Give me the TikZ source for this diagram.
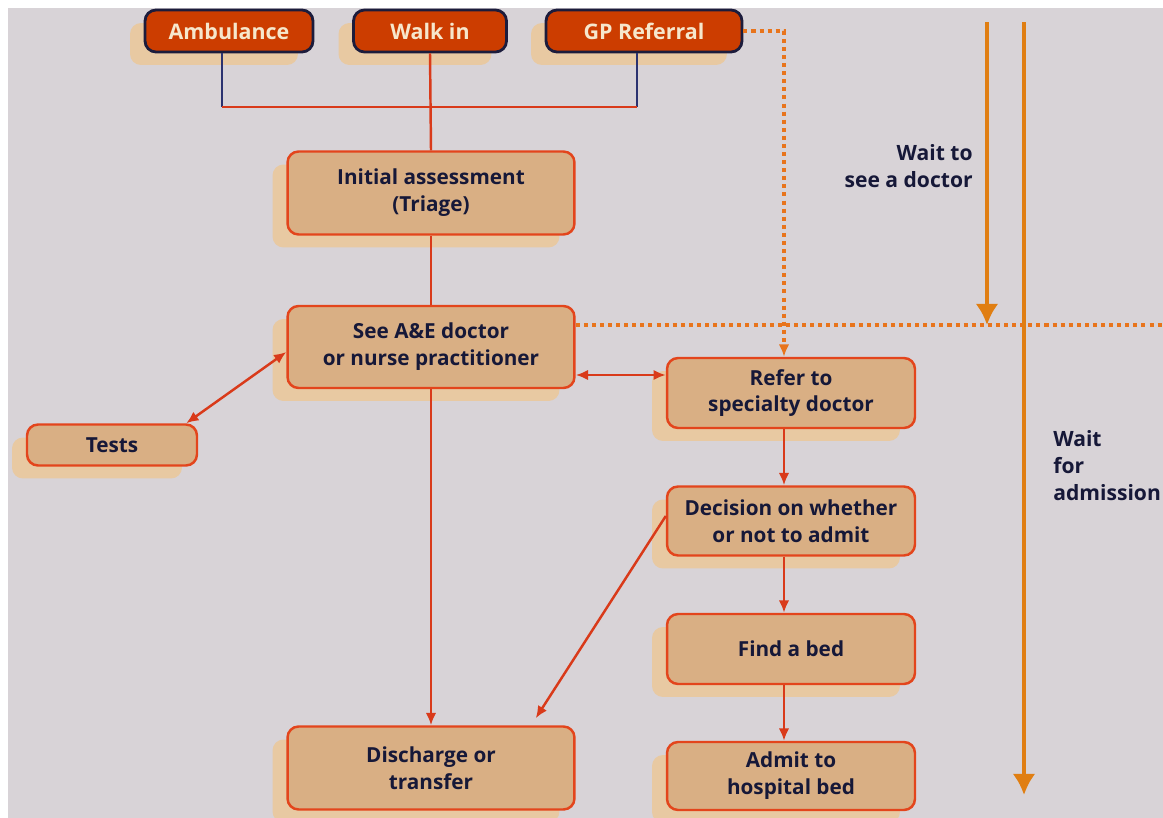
\documentclass[tikz,border=0pt]{standalone}
\usepackage{fontspec}
\setmainfont{Open Sans}
\usetikzlibrary{shadows,arrows.meta}
\definecolor{bggrey}{HTML}{D8D3D7}
\definecolor{boxtan}{HTML}{D9AF84}
\definecolor{boxred}{HTML}{E3451C}
\definecolor{toporange}{HTML}{CC3D00}
\definecolor{topnavy}{HTML}{1C1C3C}
\definecolor{shadowtan}{HTML}{E8C9A2}
\definecolor{waitorange}{HTML}{E07E12}
\definecolor{dotorange}{HTML}{E8741C}
\definecolor{linered}{HTML}{D93A1A}
\definecolor{linenavy}{HTML}{2B3270}
\definecolor{ink}{HTML}{161838}
\definecolor{cream}{HTML}{F6E7CC}
\begin{document}
\begin{tikzpicture}[>={Latex[length=7pt,width=6pt]}, x=0.02cm, y=-0.02cm,
	box/.style={draw=boxred, fill=boxtan, line width=1.4pt, rounded corners=0.22cm, align=center,
		text=ink, font=\bfseries\fontsize{11.8}{15.3}\selectfont, inner sep=0pt,
		drop shadow={shadow xshift=-0.3cm, shadow yshift=-0.26cm, fill=shadowtan, opacity=1}},
	topbox/.style={box, draw=topnavy, fill=toporange, text=cream, line width=1.6pt, minimum height=0.84cm,
		font=\bfseries\fontsize{12.2}{15}\selectfont},
	redline/.style={draw=linered, line width=1.4pt},
	navyline/.style={draw=linenavy, line width=1.3pt},
	dotline/.style={draw=dotorange, line width=2.2pt, dash pattern=on 2.3pt off 2.3pt},
	waitarrow/.style={draw=waitorange, line width=2.4pt, -{Latex[length=12pt,width=13pt]}},
	waittext/.style={text=ink, font=\bfseries\fontsize{12}{15.5}\selectfont, inner sep=0pt}]
	\useasboundingbox (0,0) rectangle (1163,818);
	\fill[white] (0,0) rectangle (1163,818);
	\fill[bggrey] (8,8) rectangle (1163,818);
	% arrival
	\path
	(229,31)  node[topbox, minimum width=3.36cm] (amb)  {Ambulance}
	+(201,0)  node[topbox, minimum width=3.06cm] (walk) {Walk in}
	+(415,0)  node[topbox, minimum width=3.92cm] (gp)   {GP Referral};
	% main column
	\path
	(431,193) node[box, minimum width=5.74cm, minimum height=1.66cm] (ia)   {Initial assessment\\(Triage)}
	+(0,154)  node[box, minimum width=5.74cm, minimum height=1.64cm] (see)  {See A\&E doctor\\or nurse practitioner}
	+(0,575)  node[box, minimum width=5.74cm, minimum height=1.66cm] (dis)  {Discharge or\\transfer}
	(112,445) node[box, minimum width=3.40cm, minimum height=0.82cm] (tests) {Tests};
	% specialty column
	\path
	(791,393) node[box, minimum width=4.96cm, minimum height=1.40cm] (refer) {Refer to\\specialty doctor}
	+(0,128)  node[box, minimum width=4.96cm, minimum height=1.38cm] (dec)   {Decision on whether\\or not to admit}
	+(0,256)  node[box, minimum width=4.96cm, minimum height=1.40cm] (bed)   {Find a bed}
	+(0,383)  node[box, minimum width=4.96cm, minimum height=1.36cm] (admit) {Admit to\\hospital bed};
	\coordinate (join) at (431,107);
	\coordinate (lineend) at (1163,325);
	\draw[navyline] ([xshift=-0.14cm]amb.south) -- ([xshift=-0.14cm]amb.south |- join);
	\draw[navyline] ([xshift=-0.14cm]gp.south) -- ([xshift=-0.14cm]gp.south |- join);
	\draw[redline] ([xshift=-0.14cm]amb.south |- join) -- ([xshift=-0.14cm]gp.south |- join);
	\draw[redline] (walk.south) -- (ia.north);
	\draw[redline] (ia) -- (see);
	\draw[redline,->] (see) -- (dis);
	\draw[redline,<->] ([xshift=-0.24cm]tests.north east) -- ([yshift=-0.1cm]see.west);
	\draw[redline,<->] ([yshift=-0.56cm]see.east) -- ([yshift=-0.56cm]see.east -| refer.west);
	\draw[redline,->] ([xshift=-0.14cm]refer.south) -- ([xshift=-0.14cm]dec.north);
	\draw[redline,->] ([xshift=-0.14cm]dec.south) -- ([xshift=-0.14cm]bed.north);
	\draw[redline,->] ([xshift=-0.14cm]bed.south) -- ([xshift=-0.14cm]admit.north);
	\draw[redline,->] ([yshift=0.1cm]dec.west) -- ([xshift=-0.8cm,yshift=0.14cm]dis.north east);
	\draw[dotline,->] (gp.east) -| ([xshift=-0.14cm]refer.north);
	\draw[dotline] (see.north east |- lineend) -- (lineend);
	% waiting times
	\coordinate (w1) at (987,22);
	\coordinate (w2) at (1024,22);
	\draw[waitarrow] (w1) -- (w1 |- lineend);
	\draw[waitarrow] (w2) -- ++(0,773);
	\node[waittext, anchor=east, align=right] (wdoc) at (973,166) {Wait to\\see a doctor};
	\node[waittext, anchor=north west, align=left] (wadm) at (1053,430) {Wait\\for\\admission};
\end{tikzpicture}
\end{document}
